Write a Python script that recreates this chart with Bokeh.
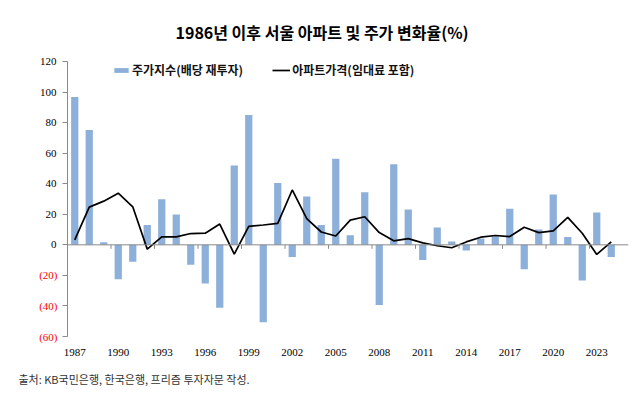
from bokeh.plotting import figure
from bokeh.models import (Range1d, FixedTicker, Span, Title, Legend, LegendItem,
                          ColumnDataSource, LinearAxis)
from bokeh.embed import file_html
from bokeh.resources import INLINE

years = list(range(1987, 2025))
stock = [96.7, 75.1, 1.7, -22.5, -11.0, 13.0, 29.9, 19.9, -13.0, -25.3, -41.1, 51.9, 85.0, -50.6,
         40.5, -8.0, 31.6, 13.0, 56.3, 6.3, 34.4, -39.4, 52.8, 23.1, -10.0, 11.3, 2.2, -3.7,
         4.1, 5.4, 23.6, -16.0, 10.0, 32.9, 5.2, -23.4, 21.2, -8.0]
apt = [3.2, 24.7, 28.6, 33.8, 24.9, -2.8, 5.2, 5.2, 7.4, 7.6, 13.6, -6.1, 12.1, 13.0, 14.1,
       35.9, 17.1, 8.4, 5.8, 16.2, 18.4, 8.0, 2.6, 4.1, 1.3, -0.6, -1.9, 1.9, 5.0, 6.1, 5.4,
       11.5, 8.0, 9.1, 18.0, 7.6, -6.3, 1.9]
x_tick_labels = [str(y) for y in range(1987, 2024, 3)]
y_ticks = [-60, -40, -20, 0, 20, 40, 60, 80, 100, 120]

title_text = "1986년 이후 서울 아파트 및 주가 변화율(%)"
stock_name = "주가지수(배당 재투자)"
apt_name = "아파트가격(임대료 포함)"
source_text = "출처: KB국민은행, 한국은행, 프리즘 투자자문 작성."

KR = "Noto Sans CJK KR"
NUM = "Liberation Sans Narrow"

src = ColumnDataSource(dict(year=years, stock=stock, apt=apt))

p = figure(width=634, height=397, output_backend="svg", toolbar_location=None,
           x_range=Range1d(1986.5, 1986.5 + 561 / 14.5), y_range=Range1d(-60, 120),
           min_border_left=67, min_border_right=6, min_border_top=61, min_border_bottom=59)
p.outline_line_color = None
p.grid.visible = False
p.background_fill_color = "white"

p.title.text = title_text
p.title.text_font = KR
p.title.text_font_size = "16px"
p.title.text_font_style = "bold"
p.title.align = "left"
p.title.offset = 108
p.title.text_color = "#000000"
p.title.standoff = 35

bars = p.vbar(x="year", top="stock", width=0.5, source=src, fill_color="#8DB0DA", line_color=None)
line = p.line(x="year", y="apt", source=src, line_color="#000000", line_width=1.7)

p.add_layout(Span(location=0, dimension="width", line_color="#8a8a8a", line_width=1))
bnds = [int(t) - 0.5 for t in x_tick_labels[1:]]
p.segment(x0=bnds, y0=[0] * len(bnds), x1=bnds, y1=[-2.6] * len(bnds), line_color="#8a8a8a", line_width=1)

# y axis (non-negative labels in black)
ya = p.yaxis[0]
ya.ticker = FixedTicker(ticks=y_ticks)
ya.major_label_overrides = {v: "" for v in y_ticks if v < 0}
ya.axis_line_color = "#8a8a8a"
ya.major_tick_line_color = "#8a8a8a"
ya.major_tick_out = 5
ya.major_tick_in = 0
ya.minor_tick_line_color = None
ya.major_label_text_font = NUM
ya.major_label_text_font_size = "11px"
ya.major_label_text_color = "#000000"
ya.major_label_standoff = 6

# second (stacked) axis for the red negative labels, pulled back next to the first
neg_ticks = [v for v in y_ticks if v < 0]
ya2 = LinearAxis(ticker=FixedTicker(ticks=neg_ticks),
                 major_label_overrides={v: "(%d)" % (-v) for v in neg_ticks},
                 axis_line_color=None, major_tick_line_color=None, minor_tick_line_color=None,
                 major_tick_out=0, major_tick_in=0, major_label_standoff=-21,
                 major_label_text_font=NUM, major_label_text_font_size="11px",
                 major_label_text_color="#FF0000")
p.add_layout(ya2, "left")

# x axis
xa = p.xaxis[0]
xa.ticker = FixedTicker(ticks=[int(t) for t in x_tick_labels])
xa.axis_line_color = None
xa.major_tick_line_color = None
xa.minor_tick_line_color = None
xa.major_label_text_font = NUM
xa.major_label_text_font_size = "11px"
xa.major_label_text_color = "#000000"
xa.major_label_standoff = 6

legend = Legend(items=[LegendItem(label=stock_name, renderers=[bars]),
                       LegendItem(label=apt_name, renderers=[line])],
                orientation="horizontal", location=(45, 258), padding=0, margin=0,
                spacing=29, glyph_width=18, glyph_height=6, label_standoff=2,
                label_text_font=KR, label_text_font_size="12px", label_text_font_style="bold",
                label_text_color="#111111", background_fill_alpha=0, border_line_color=None)
p.add_layout(legend)

p.add_layout(Title(text=source_text, align="left", text_font=KR, text_font_size="11px",
                   text_font_style="normal", text_color="#333333", offset=-49, standoff=21), "below")

open("out.html", "w").write(file_html(p, INLINE))
